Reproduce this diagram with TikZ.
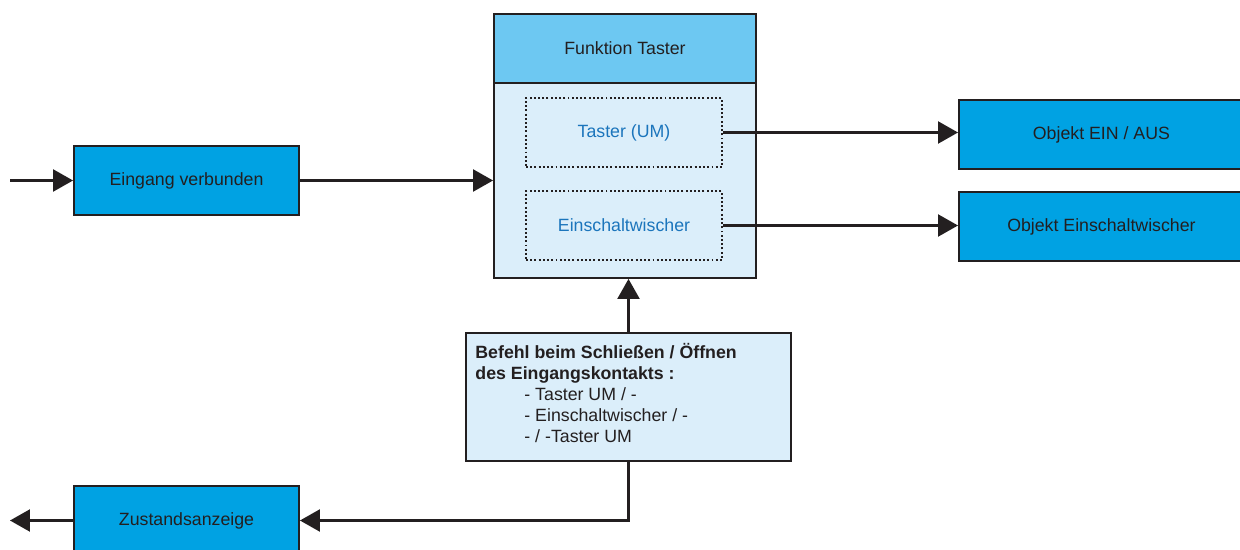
\documentclass[tikz,border=0pt]{standalone}
\usepackage{fontspec}
\setmainfont{Liberation Sans}
\usetikzlibrary{arrows.meta,positioning}
\definecolor{strich}{HTML}{231F20}
\definecolor{kastenblau}{HTML}{00A2E3}
\definecolor{kopfblau}{HTML}{6DC8F2}
\definecolor{hellblau}{HTML}{DBEEFA}
\definecolor{schriftblau}{HTML}{1B75BC}

\begin{document}
\begin{tikzpicture}[x=0.02cm, y=-0.02cm,
    font=\fontsize{10.1}{11.9}\selectfont,
    every node/.style={inner sep=0pt, text=strich},
    blaukasten/.style={draw=strich, line width=1.1pt, fill=kastenblau,
      minimum width=4.5cm, minimum height=1.38cm},
    punktkasten/.style={draw=strich, line width=1pt, dash pattern=on 1.1pt off 1.3pt,
      minimum width=3.92cm, minimum height=1.38cm, text=schriftblau},
    pfeil/.style={draw=strich, line width=1.3pt, -{Triangle[length=0.4cm,width=0.44cm]}}]
  \useasboundingbox (0,0) rectangle (1240,550);

  % Funktionsblock
  \node[draw=strich, line width=1.1pt, fill=hellblau, minimum width=5.24cm,
    minimum height=5.28cm] (fkt) at (625,146) {};
  \node[draw=strich, line width=1.1pt, fill=kopfblau, minimum width=5.24cm,
    minimum height=1.38cm, anchor=north] (kopf) at (fkt.north) {Funktion Taster};
  \node[punktkasten] (taster) at (624,132.5) {Taster (UM)};
  \node[punktkasten] (wischer) at (624,225.5) {Einschaltwischer};

  % Ein- und Ausgaenge
  \coordinate (ein) at (10,180.5);
  \coordinate (aus) at (10,520.5);
  \node[blaukasten] (eingang) at (186.5,180.5) {Eingang verbunden};
  \node[blaukasten] (zustand) at (186.5,520.5) {Zustandsanzeige};
  \node[blaukasten, minimum width=5.7cm, anchor=west] (objekt) at (958,134.5) {Objekt EIN / AUS};
  \node[blaukasten, minimum width=5.7cm, anchor=west] (objwisch) at (958,226.5) {Objekt Einschaltwischer};

  % Parameter
  \node[draw=strich, line width=1.1pt, fill=hellblau, minimum width=6.5cm,
    minimum height=2.56cm] (befehl) at (628.5,397) {};
  \node[anchor=north west, align=left] (befehltext) at ([shift={(10,11)}]befehl.north west)
    {\textbf{Befehl beim Schließen / Öffnen}\\
     \textbf{des Eingangskontakts :}\\
     \hspace*{0.98cm}- Taster UM / -\\
     \hspace*{0.98cm}- Einschaltwischer / -\\
     \hspace*{0.98cm}- / -Taster UM};

  \draw[pfeil] (ein) -- (eingang.west);
  \draw[pfeil] (eingang.east) -- (eingang.east -| fkt.west);
  \draw[pfeil] (taster.east) -- (taster.east -| objekt.west);
  \draw[pfeil] (wischer.east) -- (wischer.east -| objwisch.west);
  \draw[pfeil] (befehl.north) -- (befehl.north |- fkt.south);
  \draw[pfeil] (befehl.south) |- (zustand.east);
  \draw[pfeil] (zustand.west) -- (aus);
\end{tikzpicture}
\end{document}
